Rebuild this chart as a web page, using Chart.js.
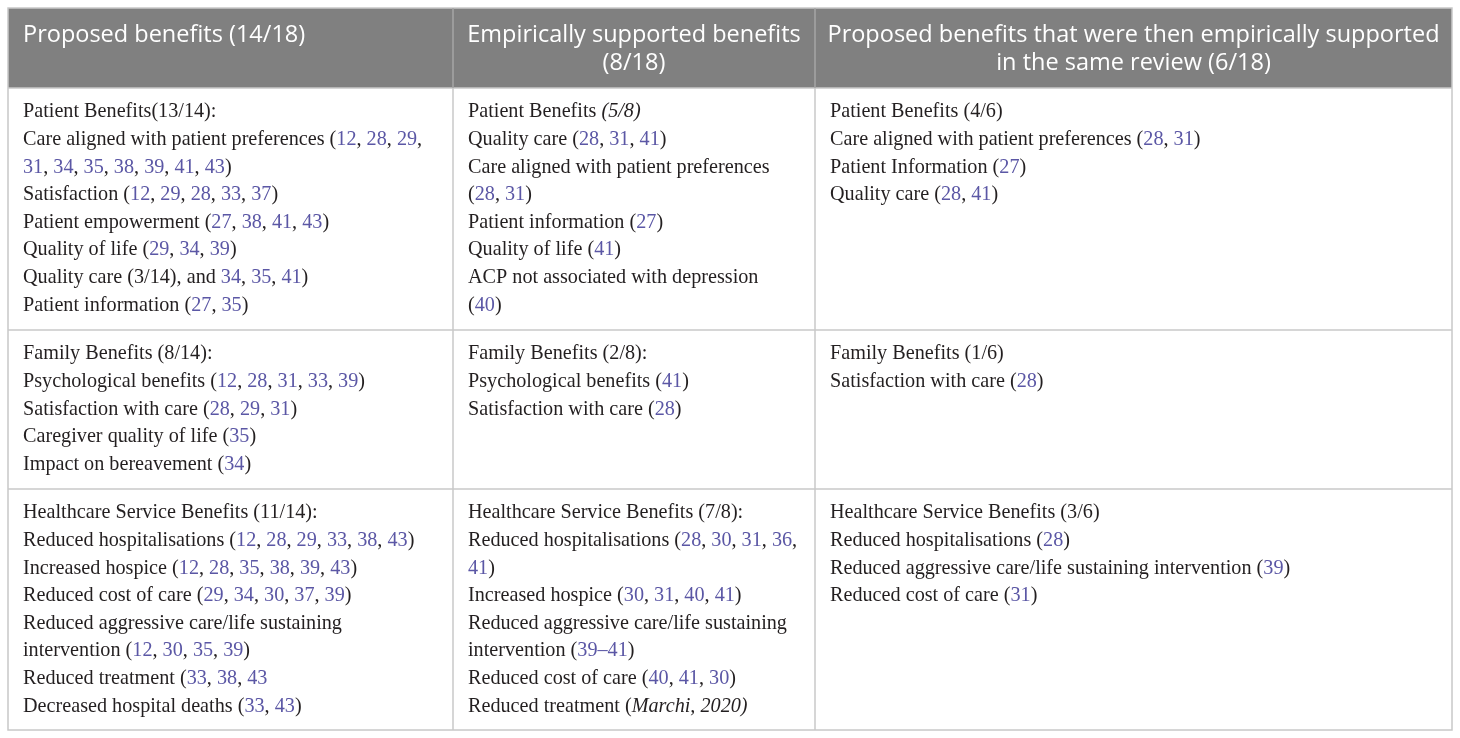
<!DOCTYPE html>
<html>
<head>
<meta charset="utf-8">
<script src="https://cdn.jsdelivr.net/npm/chart.js@4.4.1/dist/chart.umd.min.js"></script>
<style>
    html, body { margin: 0; padding: 0; background: #fff; }
    canvas { display: block; }
</style>
</head>
<body>
<canvas id="benefitsTable" width="1460" height="738"></canvas>
<script>
// {..} = citation number, _.._ = italic
const headers = [
    ['Proposed benefits (14/18)'],
    ['Empirically supported benefits', '(8/18)'],
    ['Proposed benefits that were then empirically supported', 'in the same review (6/18)']
];

const patientCells = [
    [
        'Patient Benefits(13/14):',
        'Care aligned with patient preferences ({12}, {28}, {29},',
        '{31}, {34}, {35}, {38}, {39}, {41}, {43})',
        'Satisfaction ({12}, {29}, {28}, {33}, {37})',
        'Patient empowerment ({27}, {38}, {41}, {43})',
        'Quality of life ({29}, {34}, {39})',
        'Quality care (3/14), and {34}, {35}, {41})',
        'Patient information ({27}, {35})'
    ],
    [
        'Patient Benefits _(5/8)_',
        'Quality care ({28}, {31}, {41})',
        'Care aligned with patient preferences',
        '({28}, {31})',
        'Patient information ({27})',
        'Quality of life ({41})',
        'ACP not associated with depression',
        '({40})'
    ],
    [
        'Patient Benefits (4/6)',
        'Care aligned with patient preferences ({28}, {31})',
        'Patient Information ({27})',
        'Quality care ({28}, {41})'
    ]
];

const familyCells = [
    [
        'Family Benefits (8/14):',
        'Psychological benefits ({12}, {28}, {31}, {33}, {39})',
        'Satisfaction with care ({28}, {29}, {31})',
        'Caregiver quality of life ({35})',
        'Impact on bereavement ({34})'
    ],
    [
        'Family Benefits (2/8):',
        'Psychological benefits ({41})',
        'Satisfaction with care ({28})'
    ],
    [
        'Family Benefits (1/6)',
        'Satisfaction with care ({28})'
    ]
];

const serviceCells = [
    [
        'Healthcare Service Benefits (11/14):',
        'Reduced hospitalisations ({12}, {28}, {29}, {33}, {38}, {43})',
        'Increased hospice ({12}, {28}, {35}, {38}, {39}, {43})',
        'Reduced cost of care ({29}, {34}, {30}, {37}, {39})',
        'Reduced aggressive care/life sustaining',
        'intervention ({12}, {30}, {35}, {39})',
        'Reduced treatment ({33}, {38}, {43}',
        'Decreased hospital deaths ({33}, {43})'
    ],
    [
        'Healthcare Service Benefits (7/8):',
        'Reduced hospitalisations ({28}, {30}, {31}, {36},',
        '{41})',
        'Increased hospice ({30}, {31}, {40}, {41})',
        'Reduced aggressive care/life sustaining',
        'intervention ({39–41})',
        'Reduced cost of care ({40}, {41}, {30})',
        'Reduced treatment (_Marchi, 2020)_'
    ],
    [
        'Healthcare Service Benefits (3/6)',
        'Reduced hospitalisations ({28})',
        'Reduced aggressive care/life sustaining intervention ({39})',
        'Reduced cost of care ({31})'
    ]
];

const bodyRows = [patientCells, familyCells, serviceCells];

// layout, in table units
const colEdges = [0, 445, 807, 1444];
const rowEdges = [0, 80, 322, 481, 722];
const headAlign = ['left', 'center', 'center'];
const padX = 15;

const HEAD_FONT = '23.5px "Open Sans"';
const BODY_FONT = '20.2px "Liberation Serif"';
const BODY_ITALIC = 'italic 20.2px "Liberation Serif"';
const TEXT_COLOR = '#231f20';
const CITE_COLOR = '#5b57a5';
const HEAD_BG = '#808080';
const RULE_COLOR = '#c8c8c8';

function parseLine(line) {
    return line.split(/(\{[^}]+\}|_[^_]+_)/).filter(s => s.length).map((s) => {
        if (s[0] === '{') return { text: s.slice(1, -1), font: BODY_FONT, color: CITE_COLOR };
        if (s[0] === '_') return { text: s.slice(1, -1), font: BODY_ITALIC, color: TEXT_COLOR };
        return { text: s, font: BODY_FONT, color: TEXT_COLOR };
    });
}

function drawRich(ctx, line, x, y) {
    let cx = x;
    parseLine(line).forEach((seg) => {
        ctx.font = seg.font;
        ctx.fillStyle = seg.color;
        ctx.fillText(seg.text, cx, y);
        cx += ctx.measureText(seg.text).width;
    });
}

const tablePlugin = {
    id: 'tablePlugin',
    afterDraw(chart) {
        const ctx = chart.ctx;
        const xs = chart.scales.x;
        const ys = chart.scales.y;
        const px = colEdges.map(v => xs.getPixelForValue(v));
        const py = rowEdges.map(v => ys.getPixelForValue(v));

        ctx.save();
        // header band
        ctx.fillStyle = HEAD_BG;
        ctx.fillRect(px[0], py[0], px[3] - px[0], py[1] - py[0]);

        // rules
        ctx.lineWidth = 1.5;
        ctx.strokeStyle = RULE_COLOR;
        ctx.strokeRect(px[0], py[0], px[3] - px[0], py[4] - py[0]);
        for (let r = 1; r < 4; r++) {
            ctx.beginPath();
            ctx.moveTo(px[0], py[r]);
            ctx.lineTo(px[3], py[r]);
            ctx.stroke();
        }
        for (let c = 1; c < 3; c++) {
            ctx.strokeStyle = '#a6a6a6';
            ctx.beginPath();
            ctx.moveTo(px[c], py[0]);
            ctx.lineTo(px[c], py[1]);
            ctx.stroke();
            ctx.strokeStyle = RULE_COLOR;
            ctx.beginPath();
            ctx.moveTo(px[c], py[1]);
            ctx.lineTo(px[c], py[4]);
            ctx.stroke();
        }

        ctx.textBaseline = 'middle';

        // header text
        ctx.font = HEAD_FONT;
        ctx.fillStyle = '#ffffff';
        headers.forEach((lines, c) => {
            lines.forEach((line, i) => {
                const y = py[0] + 27 + i * 28;
                if (headAlign[c] === 'center') {
                    ctx.textAlign = 'center';
                    ctx.fillText(line, (px[c] + px[c + 1]) / 2, y);
                } else {
                    ctx.textAlign = 'left';
                    ctx.fillText(line, px[c] + padX, y);
                }
            });
        });

        // body text
        ctx.textAlign = 'left';
        bodyRows.forEach((cells, r) => {
            cells.forEach((lines, c) => {
                lines.forEach((line, i) => {
                    drawRich(ctx, line, px[c] + padX, py[r + 1] + 24 + i * 27.6);
                });
            });
        });
        ctx.restore();
    }
};

new Chart(document.getElementById('benefitsTable'), {
    type: 'scatter',
    data: { datasets: [] },
    options: {
        responsive: false,
        animation: false,
        devicePixelRatio: 1,
        layout: { padding: { left: 8, right: 8, top: 8, bottom: 8 } },
        plugins: { legend: { display: false }, tooltip: { enabled: false } },
        scales: {
            x: { type: 'linear', min: 0, max: 1444, display: false },
            y: { type: 'linear', min: 0, max: 722, reverse: true, display: false }
        }
    },
    plugins: [tablePlugin]
});
</script>
</body>
</html>
